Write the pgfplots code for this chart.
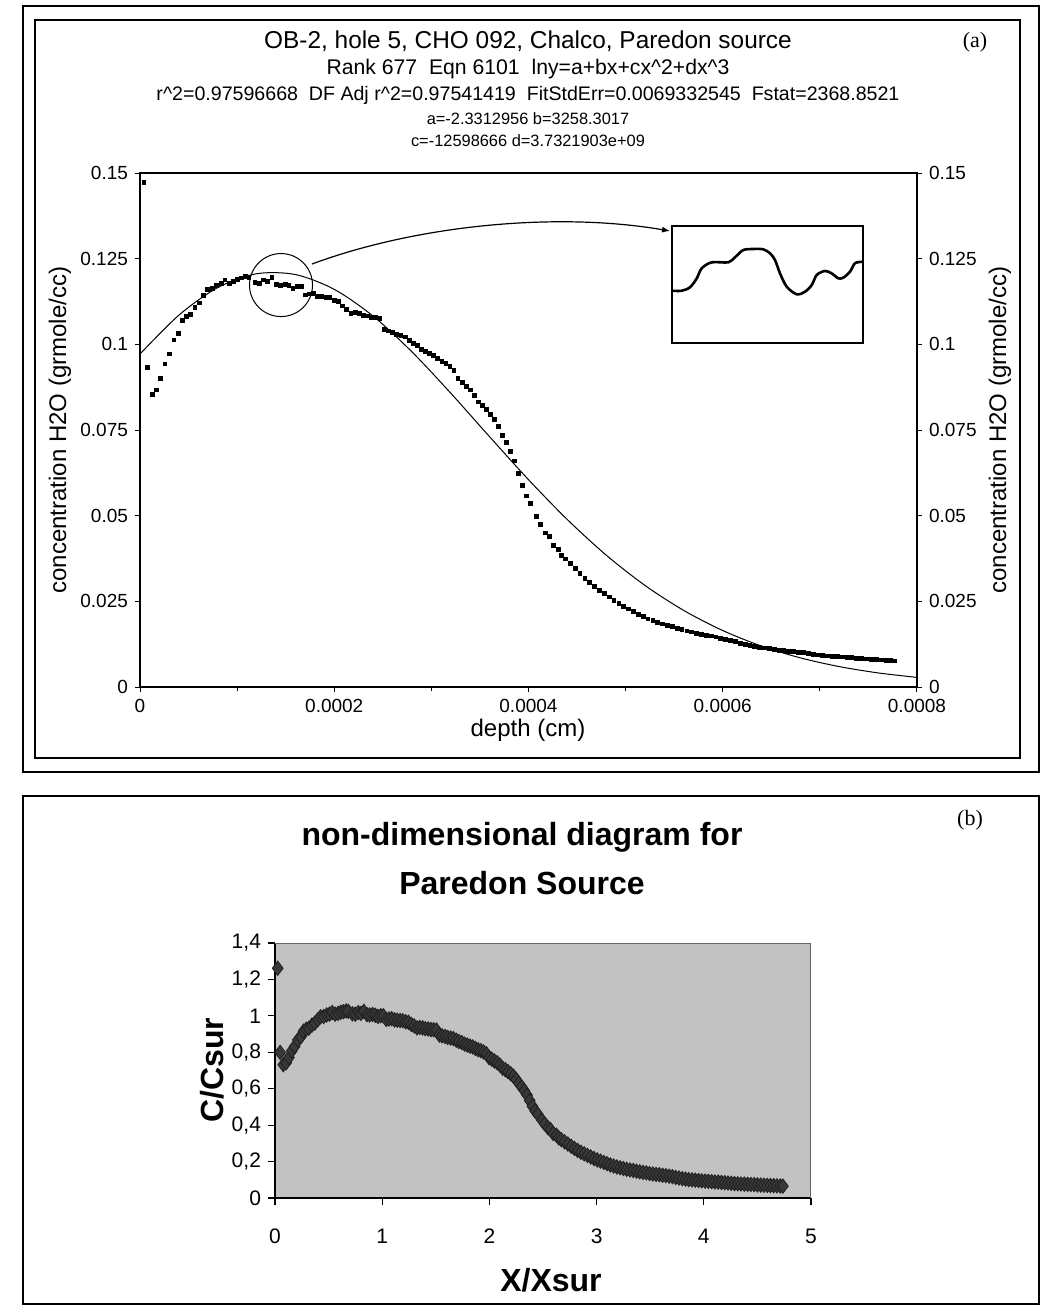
\documentclass[border=0pt]{standalone}
\usepackage{pgfplots}
\pgfplotsset{compat=1.18}
\usepackage{pgfplotstable}
\usepackage{fontspec}
\setmainfont{Liberation Sans}
\newfontfamily\timesfont{Liberation Serif}
\usetikzlibrary{arrows.meta}
\pgfplotsset{/pgf/number format/assume math mode=true}

% depth d in 1e-6 cm, concentration c in grmole/cc
\pgfplotstableread{
d c
4.1 0.1472
7.9 0.0933
12.7 0.0854
17.2 0.0867
21.3 0.0900
25.7 0.0943
30.2 0.0972
35.0 0.1013
39.5 0.1032
43.6 0.1069
47.7 0.1081
51.8 0.1088
56.6 0.1108
61.1 0.1121
65.6 0.1143
69.7 0.1161
74.5 0.1163
79.0 0.1173
83.4 0.1178
87.5 0.1188
92.0 0.1178
96.5 0.1183
100.6 0.1190
104.7 0.1194
108.8 0.1199
112.2 0.1196
118.4 0.1180
122.8 0.1178
127.3 0.1188
131.5 0.1183
135.9 0.1196
140.7 0.1175
144.8 0.1173
149.3 0.1176
153.4 0.1171
157.5 0.1163
161.7 0.1168
165.8 0.1168
170.2 0.1144
174.3 0.1147
178.5 0.1149
182.9 0.1141
187.1 0.1139
191.5 0.1137
195.6 0.1136
200.0 0.1129
204.2 0.1126
208.6 0.1112
212.8 0.1103
217.2 0.1090
221.4 0.1093
225.8 0.1090
229.9 0.1085
234.4 0.1083
238.6 0.1079
242.7 0.1078
247.1 0.1076
251.5 0.1044
255.7 0.1039
260.2 0.1035
264.3 0.1029
268.7 0.1025
272.9 0.1022
277.3 0.1011
281.4 0.1003
285.9 0.0996
290.0 0.0986
294.2 0.0980
298.3 0.0973
302.5 0.0968
306.6 0.0958
310.8 0.0950
315.0 0.0944
319.1 0.0936
323.3 0.0925
327.4 0.0900
331.6 0.0889
335.7 0.0878
339.9 0.0867
344.0 0.0852
348.2 0.0832
352.3 0.0822
356.5 0.0810
360.6 0.0796
364.8 0.0781
368.9 0.0760
373.1 0.0735
377.2 0.0713
381.4 0.0688
385.5 0.0660
389.7 0.0624
393.8 0.0588
398.0 0.0558
402.1 0.0536
408.3 0.0499
412.6 0.0475
417.7 0.0450
421.4 0.0439
425.5 0.0414
430.7 0.0402
434.2 0.0385
438 0.0374
443 0.0360
448 0.0346
453 0.0332
458 0.0318
463 0.0305
468 0.0293
473 0.0283
478 0.0273
483 0.0263
488 0.0253
493 0.0244
498 0.0236
503 0.0228
508 0.0220
513 0.0212
518 0.0205
523 0.0199
528 0.0194
533 0.0189
538 0.0184
543 0.0180
548 0.0176
553 0.0172
558 0.0168
563 0.0164
568 0.0161
573 0.0157
578 0.0154
583 0.0151
588 0.0149
593 0.0146
598 0.0143
603 0.0140
608 0.0137
613 0.0132
618 0.0128
623 0.0124
628 0.0121
633 0.0118
638 0.0116
643 0.0114
648 0.0112
653 0.0110
658 0.0108
663 0.0107
668 0.0105
673 0.0103
678 0.0102
683 0.0100
688 0.0098
693 0.0096
698 0.0094
703 0.0092
708 0.0091
713 0.0090
718 0.0089
723 0.0088
728 0.0087
733 0.0086
738 0.0084
743 0.0083
748 0.0082
753 0.0081
758 0.0080
763 0.0079
768 0.0078
773 0.0077
777 0.0076
}\datatab

% fitted curve ln y = a+bx+cx^2+dx^3, tabulated (x in 1e-6 cm)
\pgfplotstableread{
u y
0 0.09717
40 0.10851
80 0.11656
120 0.12060
160 0.12037
200 0.11605
240 0.10824
280 0.09781
320 0.08574
360 0.07302
400 0.06051
440 0.04886
480 0.03849
520 0.02963
560 0.02232
600 0.01648
640 0.01194
680 0.00850
720 0.005956
760 0.004113
800 0.002803
}\fittab

% zoomed view of the circled region (normalised box units)
\pgfplotstableread{
x y
0 0.444
0.052 0.444
0.096 0.474
0.131 0.550
0.157 0.636
0.209 0.687
0.296 0.687
0.331 0.730
0.374 0.792
0.427 0.801
0.479 0.798
0.514 0.764
0.540 0.707
0.566 0.593
0.601 0.479
0.653 0.414
0.697 0.436
0.732 0.493
0.758 0.579
0.801 0.613
0.836 0.593
0.871 0.550
0.897 0.556
0.932 0.607
0.958 0.679
0.996 0.692
1.0 0.692
}\insettab

\begin{document}
\begin{tikzpicture}
\useasboundingbox (0,0) rectangle (521.5pt,-654pt);
\fill[white] (0,0) rectangle (521.5pt,-654pt);

% ---------- panel (a) frames ----------
\draw[line width=1.2pt] (11.5pt,-3pt) rectangle (519.5pt,-386pt);
\draw[line width=0.7pt] (17.5pt,-10pt) rectangle (510pt,-379pt);

% titles
\node[font=\fontsize{12.2}{14}\selectfont] at (264pt,-20.5pt) {OB-2, hole 5, CHO 092, Chalco, Paredon source};
\node[font=\fontsize{10.6}{13}\selectfont] at (264pt,-34.5pt) {Rank 677\ \ Eqn 6101\ \ lny=a+bx+cx\textasciicircum2+dx\textasciicircum3};
\node[font=\fontsize{9.8}{11}\selectfont] at (264pt,-47.5pt) {r\textasciicircum2=0.97596668\ \ DF Adj r\textasciicircum2=0.97541419\ \ FitStdErr=0.0069332545\ \ Fstat=2368.8521};
\node[font=\fontsize{8.2}{10}\selectfont] at (264pt,-59.5pt) {a=-2.3312956 b=3258.3017};
\node[font=\fontsize{8.2}{10}\selectfont] at (264pt,-70.5pt) {c=-12598666 d=3.7321903e+09};
\node[font=\timesfont\fontsize{11}{13}\selectfont] at (487.5pt,-21pt) {(a)};

\begin{axis}[
  at={(70pt,-343.5pt)}, anchor=south west,
  scale only axis, width=388.5pt, height=257pt,
  xmin=0, xmax=800, ymin=0, ymax=0.15,
  xtick={0,200,400,600,800},
  xticklabels={0,0.0002,0.0004,0.0006,0.0008},
  minor xtick={100,300,500,700},
  ytick={0,0.025,0.05,0.075,0.1,0.125,0.15},
  yticklabels={0,0.025,0.05,0.075,0.1,0.125,0.15},
  ytick pos=left, xtick pos=bottom,
  tick align=outside,
  major tick length=2.5pt, minor tick length=2pt,
  tick style={black, line width=0.5pt},
  ticklabel style={font=\fontsize{9.5}{11}\selectfont},
  axis line style={line width=0.6pt},
]
\addplot[only marks, mark=square*, mark size=0.95pt, black] table[x=d, y=c]{\datatab};
\addplot[black, line width=0.5pt, smooth] table[x=u, y=y]{\fittab};
\draw[line width=0.5pt] (axis cs:145.2,0.1173) circle[radius=15.75pt];
\end{axis}

\begin{axis}[
  at={(70pt,-343.5pt)}, anchor=south west,
  scale only axis, width=388.5pt, height=257pt,
  xmin=0, xmax=800, ymin=0, ymax=0.15,
  axis x line=none, axis y line*=right,
  ytick={0,0.025,0.05,0.075,0.1,0.125,0.15},
  yticklabels={0,0.025,0.05,0.075,0.1,0.125,0.15},
  tick align=outside, major tick length=2.5pt,
  tick style={black, line width=0.5pt},
  ticklabel style={font=\fontsize{9.5}{11}\selectfont},
  axis line style={line width=0.6pt},
]
\addplot[draw=none] coordinates {(0,0)};
\end{axis}

\node[font=\fontsize{12}{14}\selectfont] at (264pt,-365pt) {depth (cm)};
\node[rotate=90, font=\fontsize{12}{14}\selectfont] at (30pt,-215pt) {concentration H2O (grmole/cc)};
\node[rotate=90, font=\fontsize{12}{14}\selectfont] at (500pt,-215pt) {concentration H2O (grmole/cc)};

% arrow to inset
\draw[line width=0.6pt, -{Latex[length=4pt,width=3pt]}] (156pt,-132pt) .. controls (210pt,-112pt) and (280pt,-106pt) .. (335pt,-115.5pt);

\begin{axis}[
  at={(335.85pt,-171.35pt)}, anchor=south west,
  scale only axis, width=95.65pt, height=58.5pt,
  xmin=0, xmax=1, ymin=0, ymax=1,
  ticks=none, axis line style={line width=1pt},
]
\addplot[black, line width=1.3pt, smooth] table[x=x, y=y]{\insettab};
\end{axis}

% ---------- panel (b) ----------
\draw[line width=1.2pt] (11.5pt,-398pt) rectangle (519.5pt,-652pt);
\node[font=\timesfont\fontsize{11}{13}\selectfont] at (485pt,-410pt) {(b)};
\node[font=\bfseries\fontsize{16}{19}\selectfont] at (261pt,-418.5pt) {non-dimensional diagram for};
\node[font=\bfseries\fontsize{16}{19}\selectfont] at (261pt,-441.5pt) {Paredon Source};

\begin{axis}[
  at={(137.5pt,-599pt)}, anchor=south west,
  scale only axis, width=268pt, height=127.5pt,
  xmin=0, xmax=5, ymin=0, ymax=1.4,
  axis background/.style={fill=gray!48},
  axis x line*=bottom, axis y line*=left,
  xtick={0,1,2,3,4,5},
  xticklabels={0,1,2,3,4,5},
  ytick={0,0.2,0.4,0.6,0.8,1,1.2,1.4},
  yticklabels={0,{0,2},{0,4},{0,6},{0,8},1,{1,2},{1,4}},
  tick align=outside, major tick length=3.5pt,
  tick style={black, line width=0.6pt},
  ticklabel style={font=\fontsize{10.5}{12}\selectfont},
  xticklabel style={anchor=center, yshift=-15.5pt},
  axis line style={line width=0.7pt},
]
\addplot[only marks, mark=diamond*, mark size=3.6pt, draw=black!88, fill=black!78]
  table[x expr=\thisrow{d}/164, y expr=\thisrow{c}/0.1167]{\datatab};
\draw[black!60, line width=0.6pt] (rel axis cs:0,1) -- (rel axis cs:1,1) -- (rel axis cs:1,0);
\end{axis}

\node[font=\bfseries\fontsize{16}{19}\selectfont] at (275.5pt,-640pt) {X/Xsur};
\node[rotate=90, font=\bfseries\fontsize{16}{19}\selectfont] at (106pt,-535pt) {C/Csur};
\end{tikzpicture}
\end{document}
